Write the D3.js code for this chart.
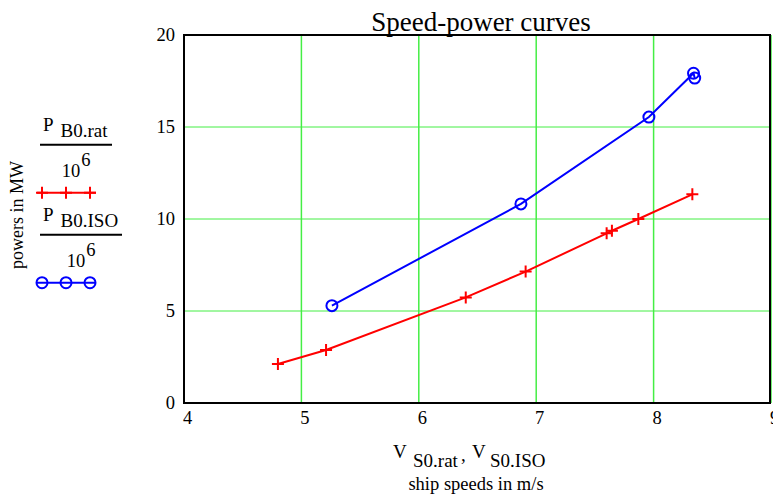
<!DOCTYPE html>
<html>
<head>
<meta charset="utf-8">
<script src="https://cdn.jsdelivr.net/npm/d3@7/dist/d3.min.js"></script>
<style>
  body { margin: 0; background: #fff; }
  svg { display: block; font-family: "Liberation Serif", "Times New Roman", serif; }
</style>
</head>
<body>
<svg id="chart" width="773" height="502"></svg>
<script>
// data
var speedRat = [4.80, 5.21, 6.40, 6.91, 7.60, 7.645, 7.87, 8.33];
var powerRat = [2.12, 2.88, 5.74, 7.14, 9.22, 9.36, 10.0, 11.34];
var speedIso = [5.26, 6.87, 7.96, 8.34, 8.35];
var powerIso = [5.29, 10.82, 15.54, 17.92, 17.66];
var xTicks = [4, 5, 6, 7, 8, 9];
var yTicks = [0, 5, 10, 15, 20];

var serif = "Liberation Serif, Times New Roman, serif";
var svg = d3.select("#chart");
var margin = {top: 35, right: 2, bottom: 99, left: 184};
var width = 773, height = 502;

var x = d3.scaleLinear().domain([4, 9]).range([margin.left, width - margin.right]);
var y = d3.scaleLinear().domain([0, 20]).range([height - margin.bottom, margin.top]);

var grid = "#44ee44";

// grid lines
svg.append("g").selectAll("line").data(xTicks.slice(1)).join("line")
    .attr("x1", function(d){ return x(d); }).attr("x2", function(d){ return x(d); })
    .attr("y1", y(0)).attr("y2", y(20))
    .attr("stroke", grid).attr("stroke-width", 1.5);
svg.append("g").selectAll("line").data(yTicks.slice(1, -1)).join("line")
    .attr("x1", x(4)).attr("x2", x(9))
    .attr("y1", function(d){ return y(d); }).attr("y2", function(d){ return y(d); })
    .attr("stroke", grid).attr("stroke-width", 1);

// frame
svg.append("rect")
    .attr("x", x(4)).attr("y", y(20))
    .attr("width", x(9) - x(4) - 1).attr("height", y(0) - y(20))
    .attr("fill", "none").attr("stroke", "#000").attr("stroke-width", 2);

// axes (labels only)
var xAxis = d3.axisBottom(x).tickValues(xTicks).tickSize(0).tickPadding(8).tickFormat(d3.format("d"));
var yAxis = d3.axisLeft(y).tickValues(yTicks).tickSize(0).tickPadding(9).tickFormat(d3.format("d"));
var gx = svg.append("g").attr("transform", "translate(3," + y(0) + ")").call(xAxis);
var gy = svg.append("g").attr("transform", "translate(" + x(4) + ",0)").call(yAxis);
[gx, gy].forEach(function(g){
    g.attr("font-family", serif);
    g.select(".domain").remove();
    g.selectAll("text").attr("font-family", serif).attr("font-size", 18.5).attr("fill", "#000");
});

// lines
function drawSeries(xs, ys, color, marker) {
    var pts = xs.map(function(v, i){ return [v, ys[i]]; });
    var line = d3.line().x(function(d){ return x(d[0]); }).y(function(d){ return y(d[1]); });
    svg.append("path").datum(pts)
        .attr("fill", "none").attr("stroke", color).attr("stroke-width", 2)
        .attr("d", line);
    drawMarkers(pts.map(function(d){ return [x(d[0]), y(d[1])]; }), color, marker);
}

function drawMarkers(pts, color, marker) {
    var g = svg.append("g");
    if (marker == "plus") {
        g.selectAll("path").data(pts).join("path")
            .attr("d", function(d){ return "M" + (d[0]-6) + "," + d[1] + "h12M" + d[0] + "," + (d[1]-6) + "v12"; })
            .attr("stroke", color).attr("stroke-width", 2).attr("fill", "none");
    } else {
        g.selectAll("circle").data(pts).join("circle")
            .attr("cx", function(d){ return d[0]; }).attr("cy", function(d){ return d[1]; })
            .attr("r", 5.5)
            .attr("stroke", color).attr("stroke-width", 2).attr("fill", "none");
    }
}

drawSeries(speedRat, powerRat, "#ff0000", "plus");
drawSeries(speedIso, powerIso, "#0000ff", "circle");

// title
svg.append("text")
    .attr("x", 481).attr("y", 31)
    .attr("text-anchor", "middle").attr("font-size", 27)
    .attr("font-family", serif)
    .text("Speed-power curves");

// y axis title
svg.append("text")
    .attr("transform", "translate(23,215) rotate(-90)")
    .attr("text-anchor", "middle").attr("font-size", 18)
    .attr("font-family", serif)
    .text("powers in MW");

// legend: P sub / 10^6 fractions with sample lines
function legendEntry(sub, top, lineW, color, marker) {
    var t = svg.append("text").attr("x", 43).attr("y", top).attr("font-size", 19).attr("font-family", serif);
    t.append("tspan").text("P");
    t.append("tspan").attr("dx", 7).attr("dy", 6).text(sub);
    svg.append("line")
        .attr("x1", 40).attr("x2", 40 + lineW)
        .attr("y1", top + 14).attr("y2", top + 14)
        .attr("stroke", "#000").attr("stroke-width", 2);
    var c = 40 + lineW / 2;
    var p = svg.append("text").attr("x", c).attr("y", top + 46).attr("font-size", 18.5)
        .attr("font-family", serif).attr("text-anchor", "middle");
    p.append("tspan").text("10");
    p.append("tspan").attr("dx", 1).attr("dy", -11).text("6");
    var ly = top + 62;
    svg.append("line").attr("x1", 37).attr("x2", 96).attr("y1", ly).attr("y2", ly)
        .attr("stroke", color).attr("stroke-width", 2);
    drawMarkers([[42, ly], [66, ly], [90, ly]], color, marker);
}
legendEntry("B0.rat", 130.7, 72, "#ff0000", "plus");
legendEntry("B0.ISO", 220.7, 82, "#0000ff", "circle");

// x axis title
var xt = svg.append("text").attr("font-size", 19).attr("font-family", serif);
xt.append("tspan").attr("x", 393).attr("y", 458).text("V");
xt.append("tspan").attr("x", 413).attr("y", 467).text("S0.rat");
xt.append("tspan").attr("x", 461).attr("y", 461).text(",");
xt.append("tspan").attr("x", 472).attr("y", 458).text("V");
xt.append("tspan").attr("x", 490).attr("y", 467).text("S0.ISO");

svg.append("text")
    .attr("x", 476).attr("y", 490)
    .attr("text-anchor", "middle").attr("font-size", 18.5)
    .attr("font-family", serif)
    .text("ship speeds in m/s");
</script>
</body>
</html>
